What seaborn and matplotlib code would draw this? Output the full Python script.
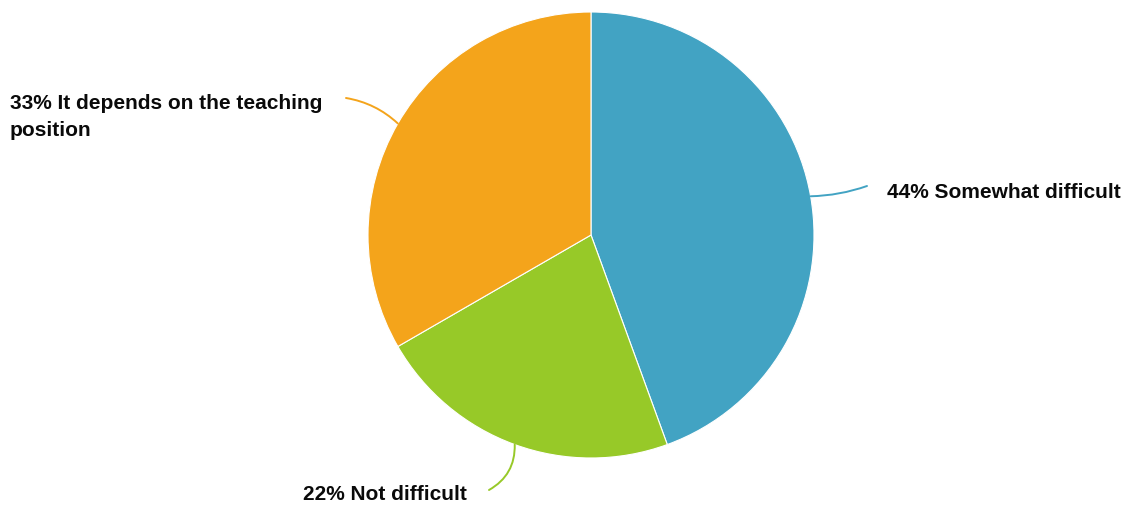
import numpy as np
import matplotlib
matplotlib.use("Agg")
import matplotlib.pyplot as plt
import seaborn as sns

# --- data ---
labels = ["Somewhat difficult", "Not difficult", "It depends on the teaching\nposition"]
percent_text = ["44%", "22%", "33%"]
values = [4, 2, 3]
colors = ["#42A3C3", "#97C928", "#F4A41B"]

sns.set_theme(style="white")
plt.rcParams['font.family'] = ['Liberation Sans', 'DejaVu Sans']

W, H = 1131, 508
fig = plt.figure(figsize=(W / 100, H / 100), dpi=100)
ax = fig.add_axes([0, 0, 1, 1])

cx, cy, r = 591, H - 235, 223
ax.pie(values, colors=colors, startangle=90, counterclock=False,
       center=(cx, cy), radius=r, frame=True,
       wedgeprops=dict(edgecolor='white', linewidth=0.8))
ax.set_xlim(0, W)
ax.set_ylim(0, H)
ax.set_aspect('equal')
ax.axis('off')

# leader lines + labels (end point, text anchor, alignment, curvature)
label_layout = [
    dict(end=(867, H - 186), text=(887, H - 193), ha='left', rad=0.08),
    dict(end=(489, H - 490), text=(467, H - 494), ha='right', rad=-0.3),
    dict(end=(346, H - 98), text=(10, H - 117), ha='left', rad=0.15),
]

fracs = np.array(values) / sum(values)
mids = np.cumsum(fracs) - fracs / 2
for i, lay in enumerate(label_layout):
    ang = np.deg2rad(90 - mids[i] * 360)
    start = (cx + r * np.cos(ang), cy + r * np.sin(ang))
    ax.annotate("", xy=lay['end'], xytext=start,
                arrowprops=dict(arrowstyle='-', color=colors[i], lw=1.4,
                                shrinkA=0, shrinkB=0,
                                connectionstyle=f"arc3,rad={lay['rad']}"))
    ax.text(lay['text'][0], lay['text'][1], f"{percent_text[i]} {labels[i]}",
            ha=lay['ha'], va='center', fontsize=15, fontweight='bold',
            color='#0a0a0a', linespacing=1.5)

fig.savefig("out.png", dpi=100)
